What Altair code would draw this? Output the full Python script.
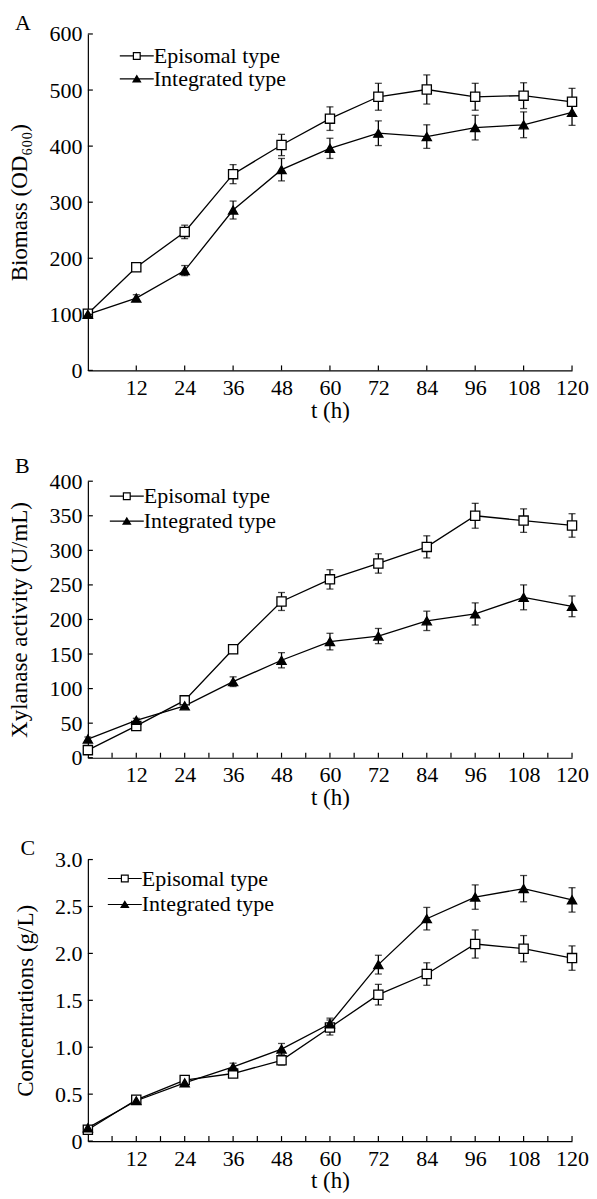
import altair as alt
import pandas as pd

# ---------------- data ----------------
t = [0, 12, 24, 36, 48, 60, 72, 84, 96, 108, 120]
series_names = ["Episomal type", "Integrated type"]

# Panel A: biomass
a_epi = [101, 184, 247, 350, 402, 449, 488, 501, 488, 490, 479]
a_epi_err = [5, 7, 12, 17, 19, 21, 24, 26, 24, 23, 24]
a_int = [100, 129, 178, 286, 358, 396, 423, 417, 433, 438, 460]
a_int_err = [4, 6, 9, 16, 20, 18, 22, 21, 22, 23, 23]

# Panel B: xylanase activity
b_epi = [11, 46, 83, 157, 226, 258, 281, 305, 350, 343, 336]
b_epi_err = [4, 4, 3, 6, 13, 14, 14, 16, 18, 17, 17]
b_int = [27, 54, 75, 110, 141, 168, 176, 198, 208, 232, 219]
b_int_err = [3, 3, 3, 7, 11, 12, 11, 14, 16, 18, 15]

# Panel C: concentrations
c_epi = [0.12, 0.44, 0.65, 0.72, 0.86, 1.21, 1.56, 1.78, 2.10, 2.05, 1.95]
c_epi_err = [0.02, 0.03, 0.03, 0.04, 0.05, 0.08, 0.11, 0.12, 0.15, 0.14, 0.13]
c_int = [0.14, 0.43, 0.62, 0.79, 0.98, 1.25, 1.88, 2.37, 2.60, 2.69, 2.57]
c_int_err = [0.02, 0.03, 0.03, 0.04, 0.06, 0.06, 0.10, 0.12, 0.13, 0.14, 0.13]

x_labels = [12, 24, 36, 48, 60, 72, 84, 96, 108, 120]
x_minor = [6, 18, 30, 42, 54, 66, 78, 90, 102, 114]
a_yticks = [0, 100, 200, 300, 400, 500, 600]
b_yticks = [0, 50, 100, 150, 200, 250, 300, 350, 400]
c_yticks = [0, 0.5, 1.0, 1.5, 2.0, 2.5, 3.0]

FONT = "Liberation Serif"
W = 485

# legend glyphs (line through marker), drawn entirely as filled shapes, 1 unit = 1 px
SQ_PATH = ("M-17,-0.6H-4V0.6H-17Z M4,-0.6H17V0.6H4Z "
           "M-4,-4H4V4H-4Z M-2.8,-2.8V2.8H2.8V-2.8Z")
TRI_PATH = "M-17,-0.6H17V0.6H-17Z M0,-4.3L4.8,3.5H-4.8Z"


def panel_df(epi, epi_err, integ, integ_err):
    rows = []
    for s, vals, errs in ((series_names[0], epi, epi_err), (series_names[1], integ, integ_err)):
        for ti, v, e in zip(t, vals, errs):
            rows.append({"t": ti, "v": v, "lo": v - e, "hi": v + e, "series": s})
    return pd.DataFrame(rows)


def panel(letter, df, ymax, yticks, ytitle, height, xticks, leg_x, leg_y, row_pad, toff,
          label_expr=None):
    xs = alt.Scale(domain=[0, 120], nice=False, zero=False)
    ys = alt.Scale(domain=[0, ymax], nice=False)
    yaxis_kw = dict(values=yticks, ticks=False, title=ytitle, labelPadding=6, titlePadding=17,
                    labelFontSize=22, titleFontSize=23)
    if label_expr:
        yaxis_kw["labelExpr"] = label_expr
    ax_x = alt.Axis(values=x_labels, ticks=False, title="t (h)", labelPadding=7, titlePadding=1,
                    labelFlush=False, labelFontSize=22, titleFontSize=23)
    ax_y = alt.Axis(**yaxis_kw)

    def X(f):
        return alt.X(f, scale=xs, axis=ax_x, title="t (h)")

    def Y(f):
        return alt.Y(f, scale=ys, axis=ax_y, title=ytitle)

    base = alt.Chart(df)

    line = base.mark_line(color="black", strokeWidth=1.3).encode(
        x=X("t:Q"), y=Y("v:Q"), detail="series:N")
    err = base.mark_rule(color="black", strokeWidth=1.3).encode(
        x=X("t:Q"), y=Y("lo:Q"), y2="hi:Q")
    cap_lo = base.mark_tick(orient="horizontal", color="black", size=7, thickness=1.3).encode(
        x=X("t:Q"), y=Y("lo:Q"))
    cap_hi = base.mark_tick(orient="horizontal", color="black", size=7, thickness=1.3).encode(
        x=X("t:Q"), y=Y("hi:Q"))
    pts = base.mark_point(size=85, stroke="black", strokeWidth=1.3, opacity=1).encode(
        x=X("t:Q"), y=Y("v:Q"),
        shape=alt.Shape("series:N", scale=alt.Scale(domain=series_names, range=["square", "triangle-up"]), legend=None),
        fill=alt.Fill("series:N", scale=alt.Scale(domain=series_names, range=["white", "black"]), legend=None),
    )
    leg_kw = dict(orient="none", legendX=leg_x, legendY=leg_y, title=None,
                  labelFont=FONT, labelFontSize=22, labelColor="black", labelLimit=400,
                  symbolSize=4, symbolFillColor="black", symbolStrokeWidth=0,
                  symbolOpacity=1, symbolOffset=16, labelOffset=6, rowPadding=row_pad)
    leg = base.transform_filter("datum.t < 0").mark_point(
        filled=True, color="black", opacity=1).encode(
        x=X("t:Q"), y=Y("v:Q"),
        shape=alt.Shape("series:N", scale=alt.Scale(domain=series_names, range=[SQ_PATH, TRI_PATH]),
                        legend=alt.Legend(**leg_kw)),
    )

    xt = alt.Chart(pd.DataFrame({"t": xticks})).mark_rule(color="black", strokeWidth=1.2).encode(
        x=X("t:Q"), y=alt.value(height), y2=alt.value(height - 5))
    yt = alt.Chart(pd.DataFrame({"v": yticks})).mark_rule(color="black", strokeWidth=1.2).encode(
        y=Y("v:Q"), x=alt.value(0), x2=alt.value(5))

    ch = alt.layer(line, err, cap_lo, cap_hi, pts, xt, yt, leg).resolve_scale(
        shape="independent"
    ).properties(
        width=W, height=height,
        title=alt.TitleParams(letter, anchor="start", frame="bounds", font=FONT, fontSize=22,
                              fontWeight="normal", color="black", dx=6, offset=toff),
    )
    return ch


A = panel("A", panel_df(a_epi, a_epi_err, a_int, a_int_err), 600, a_yticks,
          "Biomass (OD\u2086\u2080\u2080)", 337, x_labels, 22, 11, 1, -12)
B = panel("B", panel_df(b_epi, b_epi_err, b_int, b_int_err), 400, b_yticks,
          "Xylanase activity (U/mL)", 277, x_labels + x_minor, 12, 4, 3, -8)
C = panel("C", panel_df(c_epi, c_epi_err, c_int, c_int_err), 3.0, c_yticks,
          "Concentrations (g/L)", 282, x_labels + x_minor, 10, 8, 4, -11,
          label_expr="datum.value == 0 ? '0' : format(datum.value, '.1f')")

chart = alt.vconcat(alt.vconcat(A, B, spacing=33), C, spacing=27).configure(
    background="white", padding={"left": 0, "top": 3, "right": 0, "bottom": 0}
).configure_view(stroke=None).configure_axis(
    labelFont=FONT, labelFontSize=22, labelColor="black", titleFont=FONT, titleFontSize=23,
    titleFontWeight="normal", titleColor="black", domainColor="black", domainWidth=1.2,
    grid=False,
)

chart.save("out.html", embed_options={"renderer": "svg", "actions": False})
